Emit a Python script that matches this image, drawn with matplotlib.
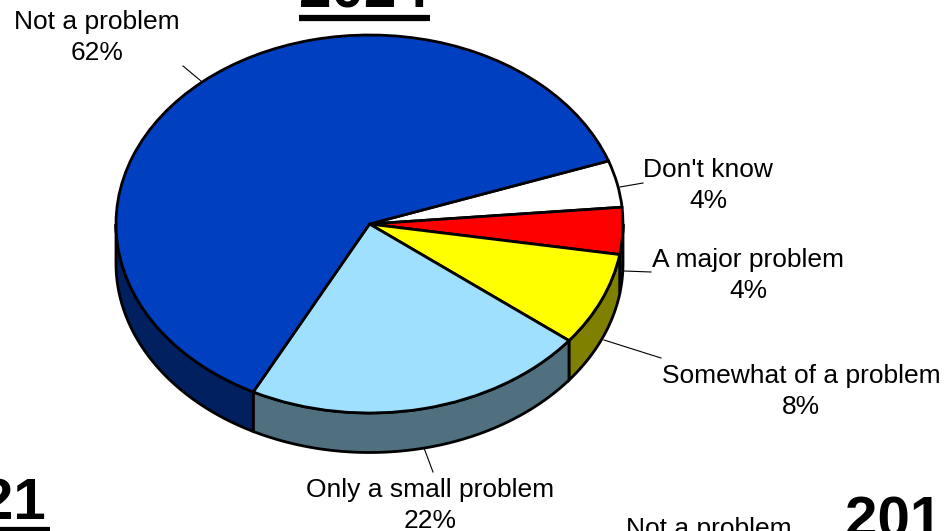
import numpy as np
import matplotlib.pyplot as plt
from matplotlib.patches import Polygon

plt.rcParams['font.family'] = ['Liberation Sans', 'DejaVu Sans']

# 2024 survey answers, clockwise from the upper right
answers = ["Don't know", "A major problem", "Somewhat of a problem",
           "Only a small problem", "Not a problem"]
shares = [4, 4, 8, 22, 62]
top_colors = ["#FFFFFF", "#FF0000", "#FFFF00", "#A0E0FF", "#0040C0"]
side_colors = ["#808080", "#800000", "#808000", "#50707F", "#002060"]

# label anchor (x, first-line baseline) and leader line, in pixels
label_pos = [(708, 177), (748, 267), (801, 383), (430, 497), (97, 29)]
leaders = [((620, 187), (643, 183)), ((624, 271), (651, 272)),
           ((604, 340), (661, 358)), ((424, 448), (433, 472)),
           ((201, 81), (183, 66))]

W, H = 944, 531
CX, CY, RX, RY = 369.5, 224, 253.5, 189   # pie centre and radii in pixels
DEPTH = 39.5 / RY                          # thickness of the disc


def px(x, y):
    return (x - CX) / RX, (CY - y) / RY


fig = plt.figure(figsize=(W / 100, H / 100), dpi=100)
ax = fig.add_axes([0, 0, 1, 1])

wedges, _ = ax.pie(shares, colors=top_colors, startangle=19.5,
                   counterclock=False,
                   wedgeprops=dict(edgecolor='black', linewidth=2, zorder=3))

# front wall of the disc, only where the rim faces the viewer
for w, c in zip(wedges, side_colors):
    t1, t2 = w.theta1, w.theta2
    for k in (-1, 0, 1):
        a, b = max(t1, -180 + 360 * k), min(t2, 360 * k)
        if b <= a:
            continue
        t = np.radians(np.linspace(a, b, 200))
        xs = np.concatenate([np.cos(t), np.cos(t[::-1])])
        ys = np.concatenate([np.sin(t), np.sin(t[::-1]) - DEPTH])
        ax.add_patch(Polygon(np.column_stack([xs, ys]), closed=True,
                             facecolor=c, edgecolor='black', linewidth=2,
                             zorder=2))

for name, v, (lx, ly), (p0, p1) in zip(answers, shares, label_pos, leaders):
    ax.text(*px(lx, ly), name, ha='center', va='baseline', fontsize=19)
    ax.text(*px(lx, ly + 31), f"{v}%", ha='center', va='baseline', fontsize=19)
    (x0, y0), (x1, y1) = px(*p0), px(*p1)
    ax.plot([x0, x1], [y0, y1], color='black', linewidth=0.8)

# titles of this and the neighbouring charts
ax.text(*px(364, 8), "2024", ha='center', va='baseline', fontsize=42,
        fontweight='bold')
ax.plot(*zip(px(299, 18), px(430, 18)), color='black', linewidth=4.5,
        solid_capstyle='butt')
ax.text(*px(46, 520), "2021", ha='right', va='baseline', fontsize=42,
        fontweight='bold')
ax.plot(*zip(px(-120, 530), px(50, 530)), color='black', linewidth=4.5,
        solid_capstyle='butt')
ax.text(*px(845, 537), "2019", ha='left', va='baseline', fontsize=42,
        fontweight='bold')
ax.text(*px(709, 536), "Not a problem", ha='center', va='baseline',
        fontsize=19)

ax.set_aspect('auto')
ax.set_xlim(px(0, 0)[0], px(W, 0)[0])
ax.set_ylim(px(0, H)[1], px(0, 0)[1])
ax.axis('off')

fig.savefig("out.png", dpi=100)
